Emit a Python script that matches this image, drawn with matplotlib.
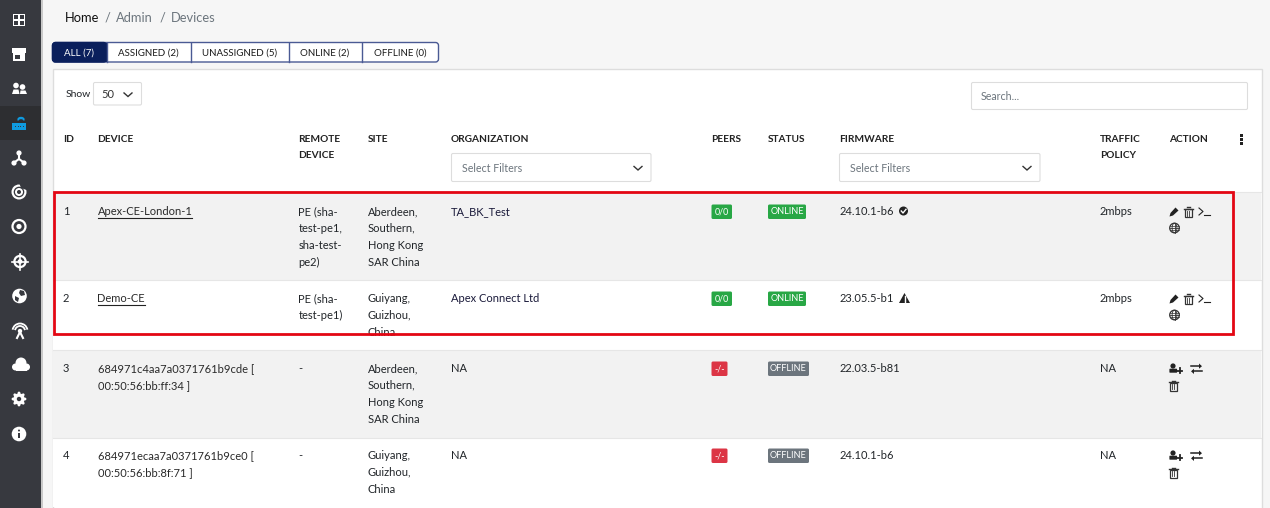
import matplotlib
matplotlib.use("Agg")
import matplotlib.pyplot as plt
from matplotlib.patches import Rectangle, FancyBboxPatch, Circle, Polygon, Wedge, Arc

plt.rcParams['font.family'] = ['Lato', 'Open Sans', 'DejaVu Sans']

# table content
tabs = ["ALL (7)", "ASSIGNED (2)", "UNASSIGNED (5)", "ONLINE (2)", "OFFLINE (0)"]
breadcrumb = ["Home", "/", "Admin", "/", "Devices"]
ids = ["1", "2", "3", "4"]
devices = [["Apex-CE-London-1"], ["Demo-CE"],
           ["684971c4aa7a0371761b9cde [", "00:50:56:bb:ff:34 ]"],
           ["684971ecaa7a0371761b9ce0 [", "00:50:56:bb:8f:71 ]"]]
remotes = [["PE (sha-", "test-pe1,", "sha-test-", "pe2)"], ["PE (sha-", "test-pe1)"], ["-"], ["-"]]
sites = [["Aberdeen,", "Southern,", "Hong Kong", "SAR China"], ["Guiyang,", "Guizhou,", "China"],
         ["Aberdeen,", "Southern,", "Hong Kong", "SAR China"], ["Guiyang,", "Guizhou,", "China"]]
orgs = ["TA_BK_Test", "Apex Connect Ltd", "NA", "NA"]
peers = ["0/0", "0/0", "-/-", "-/-"]
statuses = ["ONLINE", "ONLINE", "OFFLINE", "OFFLINE"]
firmwares = ["24.10.1-b6", "23.05.5-b1", "22.03.5-b81", "24.10.1-b6"]
policies = ["2mbps", "2mbps", "NA", "NA"]

DARK = "#212529"
GREEN = "#28a745"
RED = "#dc3545"
GREY = "#6c757d"
NAVY = "#0a1f5c"
SIDE = "#37393f"
BORDER = "#dfdfdf"

fig = plt.figure(figsize=(12.7, 5.08), dpi=100, facecolor="#f6f6f6")
ax = fig.add_axes([0, 0, 1, 1])
ax.set_xlim(0, 1270)
ax.set_ylim(508, 0)
ax.axis("off")


def rect(x, y, w, h, fc="none", ec="none", lw=1.0, z=1):
    ax.add_patch(Rectangle((x, y), w, h, fc=fc, ec=ec, lw=lw, zorder=z))


def rbox(x, y, w, h, fc="white", ec=BORDER, lw=0.8, r=2, z=2):
    ax.add_patch(FancyBboxPatch((x + r, y + r), w - 2 * r, h - 2 * r, boxstyle=f"round,pad={r},rounding_size={r}",
                                fc=fc, ec=ec, lw=lw, zorder=z))


def txt(x, y, s, size=8.05, color=DARK, weight="normal", ha="left", z=5):
    return ax.text(x, y, s, fontsize=size, color=color, fontweight=weight, ha=ha, va="center", zorder=z)


def chevron(x, y, w=4.5, h=4.0, color="#333333"):
    ax.plot([x - w, x, x + w], [y - h / 2, y + h / 2, y - h / 2], color=color, lw=1.0, zorder=5,
            solid_joinstyle="miter", solid_capstyle="butt")


def pencil(x, y):
    ax.add_patch(Polygon([(x, y + 5), (x + 1, y + 1.5), (x + 6, y - 4), (x + 9, y - 1), (x + 3.5, y + 4)], fc="#222222", zorder=6))


def trash(x, y):
    rect(x + 1, y - 3, 6.5, 8, ec="#333333", lw=0.9, z=6)
    ax.plot([x, x + 8.5], [y - 3.5, y - 3.5], color="#333333", lw=1.0, zorder=6)
    ax.plot([x + 3, x + 5.5], [y - 5, y - 5], color="#333333", lw=1.0, zorder=6)
    ax.plot([x + 3.2, x + 3.2], [y - 1.5, y + 3.5], color="#333333", lw=0.6, zorder=6)
    ax.plot([x + 5.3, x + 5.3], [y - 1.5, y + 3.5], color="#333333", lw=0.6, zorder=6)


def prompt(x, y):
    ax.plot([x, x + 4, x], [y - 3.5, y, y + 3.5], color="#222222", lw=0.8, zorder=6)
    ax.plot([x + 5, x + 10.5], [y + 3.5, y + 3.5], color="#222222", lw=0.8, zorder=6)


def globe(x, y, r=4.8, color="#333333"):
    ax.add_patch(Circle((x, y), r, fc="none", ec=color, lw=0.9, zorder=6))
    ax.plot([x - r, x + r], [y, y], color=color, lw=0.6, zorder=6)
    ax.plot([x, x], [y - r, y + r], color=color, lw=0.6, zorder=6)
    ax.plot([x - r + 0.7, x + r - 0.7], [y - 2.3, y - 2.3], color=color, lw=0.5, zorder=6)
    ax.plot([x - r + 0.7, x + r - 0.7], [y + 2.3, y + 2.3], color=color, lw=0.5, zorder=6)
    ax.add_patch(Arc((x, y), r, 2 * r, color=color, lw=0.6, zorder=6))


def user_plus(x, y):
    ax.add_patch(Circle((x + 4, y - 2.5), 2.6, fc="#222222", zorder=6))
    ax.add_patch(FancyBboxPatch((x + 1, y + 0.8), 6.5, 2.8, boxstyle="round,pad=0.6", fc="#222222", ec="none", zorder=6))
    ax.plot([x + 8, x + 13], [y + 2, y + 2], color="#222222", lw=1.3, zorder=6)
    ax.plot([x + 10.5, x + 10.5], [y - 0.5, y + 4.5], color="#222222", lw=1.3, zorder=6)


def swap(x, y):
    ax.plot([x, x + 9], [y - 2.3, y - 2.3], color="#222222", lw=1.1, zorder=6)
    ax.add_patch(Polygon([(x + 8, y - 5), (x + 11, y - 2.3), (x + 8, y + 0.2)], fc="#222222", zorder=6))
    ax.plot([x + 2, x + 11], [y + 2.8, y + 2.8], color="#222222", lw=1.1, zorder=6)
    ax.add_patch(Polygon([(x + 3, y + 0.3), (x, y + 2.8), (x + 3, y + 5.5)], fc="#222222", zorder=6))


# sidebar
rect(0, 0, 41, 508, fc=SIDE, z=1)
rect(41, 0, 1.5, 508, fc="#c9c9c9", z=1)
rect(0, 106, 41, 34, fc="#2d2e31", z=2)

W = "white"
# dashboard grid
rect(12.5, 13.5, 12.5, 12.5, fc=W, z=3)
for gx, gy in [(14, 15), (19.5, 15), (14, 20.5), (19.5, 20.5)]:
    rect(gx, gy, 4, 4, fc=SIDE, z=4)
# store
rect(13, 50, 12, 11, fc=W, z=3)
rect(14.5, 55, 5, 4, fc=SIDE, z=4)
rect(12, 47.5, 14, 5, fc=W, z=3)
# users
for cx, cy, rr in [(16, 85.5, 2.8), (22.5, 87, 2.8)]:
    ax.add_patch(Circle((cx, cy), rr, fc=W, zorder=3))
ax.add_patch(Polygon([(12, 94), (13.5, 89.5), (18.5, 89.5), (19.5, 94)], fc=W, zorder=3))
ax.add_patch(Polygon([(20, 94), (20.5, 90.5), (25.5, 90.5), (27, 94)], fc=W, zorder=3))
# router (blue)
BLUE = "#0f9be0"
rect(12, 123, 13.5, 6.5, fc=BLUE, z=3)
for dx in [15, 17.5, 20, 22.5]:
    rect(dx, 126, 1, 1, fc=SIDE, z=4)
ax.add_patch(Arc((21, 120.5), 6, 4, theta1=180, theta2=360, color=BLUE, lw=1.0, zorder=3))
ax.add_patch(Arc((21, 119.5), 6, 4, theta1=180, theta2=360, color=BLUE, lw=1.0, zorder=3))
# topology
ax.plot([19, 19, 13.5], [153, 159, 163], color=W, lw=1.5, zorder=3)
ax.plot([19, 24.5], [159, 163], color=W, lw=1.5, zorder=3)
for cx, cy in [(19, 153), (14, 163), (24, 163)]:
    ax.add_patch(Circle((cx, cy), 2.6, fc=W, zorder=4))
# radar
ax.add_patch(Circle((19, 192), 7.5, fc=W, zorder=3))
ax.add_patch(Circle((19, 192), 5.3, fc=SIDE, zorder=3))
ax.add_patch(Circle((19, 192), 4, fc=W, zorder=3))
ax.add_patch(Circle((19, 192), 2, fc=SIDE, zorder=3))
ax.add_patch(Wedge((21, 188), 6, 250, 20, fc=SIDE, zorder=4))
# target circle
ax.add_patch(Circle((19, 226.5), 6.5, fc="none", ec=W, lw=1.6, zorder=3))
ax.add_patch(Circle((19, 226.5), 2.6, fc=W, zorder=3))
# crosshair
ax.add_patch(Circle((20, 261.5), 5.6, fc="none", ec=W, lw=1.6, zorder=3))
ax.add_patch(Circle((20, 261.5), 2.4, fc=W, zorder=3))
ax.plot([20, 20], [253.5, 269.5], color=W, lw=1.2, zorder=2.5)
ax.plot([12, 28], [261.5, 261.5], color=W, lw=1.2, zorder=2.5)
# globe
ax.add_patch(Circle((19.5, 296), 7.3, fc=W, zorder=3))
ax.add_patch(Polygon([(20, 290), (24, 291), (25, 295), (21, 296), (19, 293)], fc=SIDE, zorder=4))
ax.add_patch(Polygon([(15, 296), (19, 298), (18, 302), (15, 300)], fc=SIDE, zorder=4))
# antenna
for rr, lw in [(15, 1.3), (10, 1.3)]:
    ax.add_patch(Arc((20, 331), rr, rr, theta1=190, theta2=350, color=W, lw=lw, zorder=3))
ax.add_patch(Circle((20, 331), 2.2, fc=W, zorder=3))
ax.plot([20, 17], [332, 338], color=W, lw=1.5, zorder=3)
ax.plot([20, 23], [332, 338], color=W, lw=1.5, zorder=3)
# cloud
ax.add_patch(Circle((21, 363), 5.5, fc=W, zorder=3))
ax.add_patch(Circle((15.5, 367), 3.5, fc=W, zorder=3))
ax.add_patch(Circle((26.5, 367), 3.5, fc=W, zorder=3))
rect(15.5, 365, 11, 5.5, fc=W, z=3)
# gear
ax.add_patch(Circle((19, 399), 5.7, fc=W, zorder=3))
for dx, dy in [(0, -6), (0, 6), (-6, 0), (6, 0), (-4.2, -4.2), (4.2, -4.2), (-4.2, 4.2), (4.2, 4.2)]:
    ax.add_patch(Circle((19 + dx, 399 + dy), 1.4, fc=W, zorder=3))
ax.add_patch(Circle((19, 399), 2.2, fc=SIDE, zorder=4))
# info
ax.add_patch(Circle((19, 434), 7.3, fc=W, zorder=3))
ax.add_patch(Circle((19, 430.5), 1.0, fc=SIDE, zorder=4))
rect(18.2, 432.5, 1.6, 5, fc=SIDE, z=4)

# breadcrumb
bx = [65, 105, 116, 160, 171]
bc = ["#111111", "#6c757d", "#6c757d", "#6c757d", "#6c757d"]
for x, s, c in zip(bx, breadcrumb, bc):
    txt(x, 17.5, s, size=9.3, color=c)

# tab bar
tab_edges = [52.5, 106.5, 190.5, 288.5, 361.5, 438.5]
rbox(tab_edges[0], 42.5, tab_edges[-1] - tab_edges[0], 19.5, fc="white", ec="#4a5a94", lw=1.0, r=3)
rbox(tab_edges[0], 42.5, tab_edges[1] - tab_edges[0], 19.5, fc=NAVY, ec=NAVY, lw=1.0, r=3, z=3)
rect(100, 42.5, 6.5, 19.5, fc=NAVY, z=3)
for i, s in enumerate(tabs):
    mid = (tab_edges[i] + tab_edges[i + 1]) / 2
    txt(mid, 53, s, size=7.0, color="white" if i == 0 else "#1a1a1a", ha="center")
    if i > 0:
        ax.plot([tab_edges[i]] * 2, [42.5, 62], color="#4a5a94", lw=1.0, zorder=4)

# card
rect(52.5, 69, 1209, 440, fc="white", ec="#dddddd", lw=1.0, z=1)

# show / search
txt(66, 94.5, "Show", size=7.5)
rbox(93.5, 82.5, 48, 22.5, ec="#dddddd", r=1.5)
txt(101, 94.5, "50", size=8.05, color="#333333")
chevron(128, 94.5)
rbox(971.5, 82.5, 276, 27, ec="#dddddd", r=1.5)
txt(981, 97, "Search...", size=7.7, color="#6c757d")

# column headers
header_kw = dict(size=7.3, color="#222222", weight="bold")
txt(63, 140, "ID", **header_kw)
txt(97.5, 140, "DEVICE", **header_kw)
txt(298.5, 140, "REMOTE", **header_kw)
txt(298.5, 155, "DEVICE", **header_kw)
txt(367.5, 140, "SITE", **header_kw)
txt(451, 140, "ORGANIZATION", **header_kw)
txt(711.5, 140, "PEERS", **header_kw)
txt(768, 140, "STATUS", **header_kw)
txt(839.5, 140, "FIRMWARE", **header_kw)
txt(1100, 140, "TRAFFIC", **header_kw)
txt(1100, 155, "POLICY", **header_kw)
txt(1169, 140, "ACTION", **header_kw)
for dy in [135.5, 139.5, 143.5]:
    rect(1240, dy - 1.2, 2.6, 2.4, fc="#222222", z=5)

for bx0, bw in [(451.5, 199.5), (839.5, 200.5)]:
    rbox(bx0, 153.5, bw, 28, ec="#dddddd", r=1.5)
    txt(bx0 + 10, 168, "Select Filters", size=7.7, color="#6c757d")
    chevron(bx0 + bw - 13, 168)

# rows
row_top = [192, 280, 350, 437.5]
row_h = [88, 70, 87.5, 69]
row_fc = ["#f2f2f2", "white", "#f2f2f2", "white"]
row_y = [211.5, 298.5, 368.5, 455.5]
line_h = 16.9

for i in range(4):
    top = row_top[i]
    y0 = row_y[i]
    rect(53, top, 1208, row_h[i], fc=row_fc[i], z=1)
    ax.plot([53, 1261], [top, top], color="#e6e6e6", lw=0.8, zorder=1.5)
    txt(63, y0, ids[i])
    for j, s in enumerate(devices[i]):
        txt(97.5, y0 + j * line_h, s, color="#2a2a2a")
        if i < 2:
            ax.plot([97.5, 191.5 if i == 0 else 145], [y0 + 6, y0 + 6], color="#222222", lw=0.8, zorder=5)
    for j, s in enumerate(remotes[i]):
        txt(298.5, y0 + j * line_h, s)
    for j, s in enumerate(sites[i]):
        txt(368, y0 + j * line_h, s)
    txt(451, y0, orgs[i], color="#1a1a3a" if i < 2 else DARK)

    # peers badge
    pw = 20.5 if i < 2 else 16
    rbox(711.5, y0 - 7, pw, 14.5, fc=GREEN if i < 2 else RED, ec="none", lw=0, r=1.5, z=3)
    txt(711.5 + pw / 2, y0 + 0.2, peers[i], size=6.4, color="white", ha="center")
    # status badge
    sw = 38 if i < 2 else 41
    rbox(768, y0 - 7, sw, 14.5, fc=GREEN if i < 2 else GREY, ec="none", lw=0, r=1.5, z=3)
    txt(768 + sw / 2, y0 + 0.2, statuses[i], size=6.6, color="white", ha="center")

    txt(839.5, y0, firmwares[i])
    txt(1100, y0, policies[i])

    if i < 2:
        pencil(1169.5, y0)
        trash(1184, y0 + 0.5)
        prompt(1199, y0)
        globe(1174.5, y0 + 16.5)
    else:
        user_plus(1169, y0)
        swap(1191, y0)
        trash(1169, y0 + 17)

# firmware state icons
ax.add_patch(Circle((903.5, 211), 4.5, fc="#222222", zorder=6))
ax.plot([901.3, 903, 906], [211, 213, 209.3], color="white", lw=1.0, zorder=7)
ax.add_patch(Polygon([(904.5, 293), (899, 303), (910, 303)], fc="#222222", zorder=6))
ax.plot([904.5, 904.5], [296, 299.5], color="white", lw=1.0, zorder=7)
ax.plot([904.5, 904.5], [300.7, 301.7], color="white", lw=1.0, zorder=7)

# highlight box drawn on top of the table
rect(53.5, 192, 1179, 142, ec="#e30613", lw=2.0, z=8)

fig.savefig("out.png", dpi=100, facecolor=fig.get_facecolor())
